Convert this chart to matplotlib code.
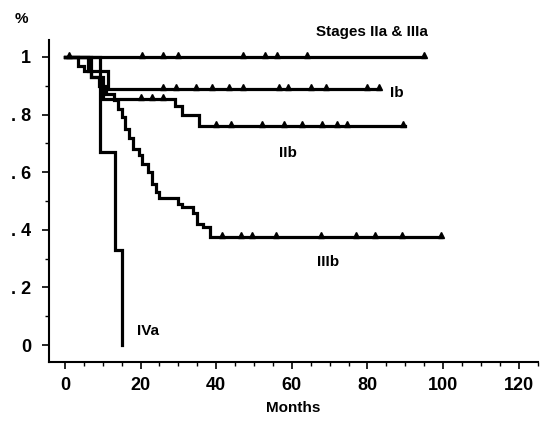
import numpy as np
import matplotlib
matplotlib.use('Agg')
import matplotlib.pyplot as plt
from matplotlib.ticker import MultipleLocator

# Kaplan-Meier style curves: step times (months) and survival after each step
iia_t = [0]
iia_s = [1.0]
iia_end = 95
iia_cens = [1, 20.5, 26, 30, 47, 53, 56, 64, 95]

ib_t = [0, 6, 11.5]
ib_s = [1.0, 0.95, 0.89]
ib_end = 83
ib_cens = [26, 29.5, 34.7, 39, 43.4, 47, 56.6, 59, 65, 69, 80, 83]

iib_t = [0, 7, 10, 29, 31, 35.5]
iib_s = [1.0, 0.93, 0.855, 0.83, 0.80, 0.76]
iib_end = 90
iib_cens = [20, 23, 26, 40, 44, 52, 58, 62.6, 68, 72, 74.5, 89.5]

iiib_t = [0, 3.5, 5, 7, 9, 11, 13, 14, 15, 16, 17, 18, 19.5, 20.5, 22, 23, 24, 25,
          30, 31, 34, 35, 36.5, 38.5]
iiib_s = [1.0, 0.97, 0.95, 0.93, 0.90, 0.87, 0.85, 0.82, 0.79, 0.75, 0.72, 0.68,
          0.66, 0.63, 0.60, 0.56, 0.53, 0.51, 0.49, 0.48, 0.46, 0.42, 0.41, 0.375]
iiib_end = 99.5
iiib_cens = [41.6, 46.6, 49.5, 55.8, 67.6, 77, 82, 89, 99.5]

iva_t = [0, 9.3, 13.2, 15.2]
iva_s = [1.0, 0.67, 0.33, 0.0]
iva_end = 15.2
iva_cens = []

x_ticks = [0, 20, 40, 60, 80, 100, 120]
y_ticks = [0, 0.2, 0.4, 0.6, 0.8, 1.0]
y_labels = ['0', '. 2', '. 4', '. 6', '. 8', '1']

curves = [
    (iia_t, iia_s, iia_end, iia_cens),
    (ib_t, ib_s, ib_end, ib_cens),
    (iib_t, iib_s, iib_end, iib_cens),
    (iiib_t, iiib_s, iiib_end, iiib_cens),
    (iva_t, iva_s, iva_end, iva_cens),
]

plt.rcParams['font.family'] = ['Liberation Sans', 'DejaVu Sans']
narrow = ['Liberation Sans Narrow', 'Liberation Sans', 'DejaVu Sans']

fig = plt.figure(figsize=(5.4, 4.29), dpi=100)
ax = fig.add_axes([0.0907, 0.156, 0.905, 0.751])

for t, s, end, cens in curves:
    xs = list(t) + [end]
    ys = list(s) + [s[-1]]
    ax.step(xs, ys, where='post', color='black', lw=2.3, solid_joinstyle='miter')
    if cens:
        idx = np.searchsorted(t, cens, side='right') - 1
        ax.plot(cens, np.array(s)[idx] + 0.007, linestyle='none', marker='^',
                color='black', markersize=4)

ax.set_xlim(-4.2, 125)
ax.set_ylim(-0.059, 1.059)
ax.spines['top'].set_visible(False)
ax.spines['right'].set_visible(False)
ax.spines['left'].set_linewidth(1.5)
ax.spines['bottom'].set_linewidth(1.5)

ax.set_xticks(x_ticks)
ax.set_xticklabels([str(v) for v in x_ticks], family=narrow, fontweight='bold', fontsize=13)
ax.set_yticks(y_ticks)
ax.set_yticklabels(y_labels, family=narrow, fontweight='bold', fontsize=13)
ax.xaxis.set_minor_locator(MultipleLocator(5))
ax.yaxis.set_minor_locator(MultipleLocator(0.1))
ax.tick_params(axis='both', which='major', length=5, width=1.2, direction='out')
ax.tick_params(axis='both', which='minor', length=3, width=1, direction='out')
ax.tick_params(axis='x', pad=6)
ax.tick_params(axis='y', pad=8)

ax.set_xlabel('Months', fontweight='bold', fontsize=11, labelpad=5)

fig.text(0.04, 0.955, '%', fontweight='bold', fontsize=11, ha='center', va='center')

ax.text(96, 1.085, 'Stages IIa & IIIa', fontweight='bold', fontsize=11, ha='right', va='center')
ax.text(86, 0.875, 'Ib', fontweight='bold', fontsize=11, ha='left', va='center')
ax.text(59, 0.665, 'IIb', fontweight='bold', fontsize=11, ha='center', va='center')
ax.text(69.5, 0.29, 'IIIb', fontweight='bold', fontsize=11, ha='center', va='center')
ax.text(19, 0.05, 'IVa', fontweight='bold', fontsize=11, ha='left', va='center')

fig.savefig('out.png', dpi=100)
